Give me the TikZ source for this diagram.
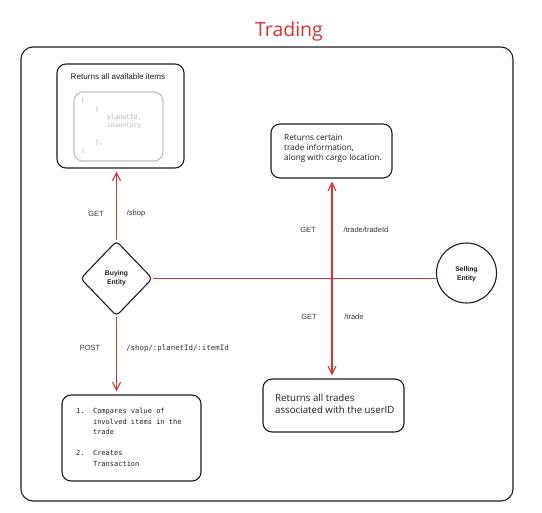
\documentclass[tikz,border=0pt]{standalone}
\usepackage{fontspec}
\setmainfont{Liberation Sans}
\newfontfamily\handfont{Open Sans}
\newfontfamily\codefont{DejaVu Sans Mono}
\usetikzlibrary{shapes.geometric,arrows.meta}
\definecolor{exred}{HTML}{E03131}
\definecolor{exink}{HTML}{1E1E1E}
\definecolor{exgray}{HTML}{B4B4B4}
\definecolor{exlabel}{HTML}{333333}
\begin{document}
\begin{tikzpicture}[x=1pt,y=-1pt,
  boxshape/.style={draw=exink, line width=1.1pt, rounded corners=9pt, inner sep=0pt},
  codebox/.style={draw=exgray!85, line width=1.1pt, rounded corners=9pt, inner sep=0pt},
  link/.style={draw=exred, line width=1.1pt},
  arr/.style={link, -{Straight Barb[length=8pt,width=8pt,line width=1.1pt]}, shorten >=3pt},
  lbl/.style={font=\fontsize{7.5}{9}\selectfont, text=exlabel, inner sep=0pt},
  codelbl/.style={font=\codefont\fontsize{7.4}{9}\selectfont, text=exlabel, inner sep=0pt},
  entity/.style={font=\bfseries\fontsize{6.8}{9}\selectfont, text=exink, align=center, inner sep=0pt},
  blocktext/.style={anchor=north west, align=left, inner sep=0pt, text=exink},
]
\useasboundingbox (0,0) rectangle (542,513);
\fill[white] (0,0) rectangle (542,513);

% title and frame
\node[font=\handfont\fontsize{19.5}{22}\selectfont, text=exred, inner sep=0pt] (title) at (289,31) {Trading};
\node[boxshape, rounded corners=12pt, minimum width=492pt, minimum height=454pt] (frame) at (267,274) {};

% boxes
\node[boxshape, minimum width=127pt, minimum height=104pt] (box1) at (120.5,116) {};
\node[codebox, minimum width=89pt, minimum height=69pt] (inner) at (118.5,126.5) {};
\node[boxshape, minimum width=121pt, minimum height=54pt] (box2) at (331.5,151) {};
\node[boxshape, minimum width=139pt, minimum height=86pt] (box3) at (131.5,438) {};
\node[boxshape, minimum width=141pt, minimum height=53pt] (box4) at (333.5,405.5) {};

% entities
\node[diamond, draw=exink, line width=1.1pt, rounded corners=4pt, minimum width=72pt, minimum height=75pt, inner sep=0pt] (buy) at (116.5,278.5) {};
\node[entity] (buytext) at (116.5,278.5) {Buying\\Entity};
\node[circle, draw=exink, line width=1.1pt, minimum size=60pt, inner sep=0pt] (sell) at (466.5,273) {};
\node[entity] (selltext) at (466.5,274.5) {Selling\\Entity};

% box texts
\node[font=\fontsize{8.1}{10}\selectfont, text=exink, inner sep=0pt] (t1) at (118,76.5) {Returns all available items};
\node[blocktext, text=exgray, font=\codefont\fontsize{6.3}{8.33}\selectfont] (code) at (81,98) {%
[\\
\hspace*{14pt}\{\\
\hspace*{26pt}planetId,\\
\hspace*{26pt}inventory\\[8.33pt]
\hspace*{14pt}\},\\
]};
\node[blocktext, font=\handfont\fontsize{8.2}{10}\selectfont] (t2) at (284,134.5) {Returns certain\\trade information,\\along with cargo location.};
\node[blocktext, font=\handfont\fontsize{9.7}{12}\selectfont] (t4) at (275,394) {Returns all trades\\associated with the userID};
\node[blocktext, font=\codefont\fontsize{7}{10.5}\selectfont] (t3) at (76,408) {%
\makebox[2.41em][l]{1.}Compares value of\\
\hspace*{2.41em}involved items in the\\
\hspace*{2.41em}trade\\[10.5pt]
\makebox[2.41em][l]{2.}Creates\\
\hspace*{2.41em}Transaction};

% connectors
\coordinate (cross) at (332,278);
\draw[link] (buy.east) -- (buy.east -| sell.west);
\draw[arr] (buy.north) -- (buy.north |- box1.south);
\draw[arr] (buy.south) -- (buy.south |- box3.north);
\draw[arr] (cross) -- (cross |- box2.south);
\draw[arr] (cross) -- (cross |- box4.north);

% connector labels
\node[lbl] (get1) at (96,214) {GET};
\node[lbl] (shop) at (136,214) {/shop};
\node[lbl] (post) at (90,348) {POST};
\node[codelbl] (postpath) at (177.5,348) {/shop/:planetId/:itemId};
\node[lbl] (get2) at (308,230) {GET};
\node[lbl] (tradeid) at (366,230) {/trade/tradeId};
\node[lbl] (get3) at (309,316.5) {GET};
\node[lbl] (trade) at (354,316.5) {/trade};
\end{tikzpicture}
\end{document}
